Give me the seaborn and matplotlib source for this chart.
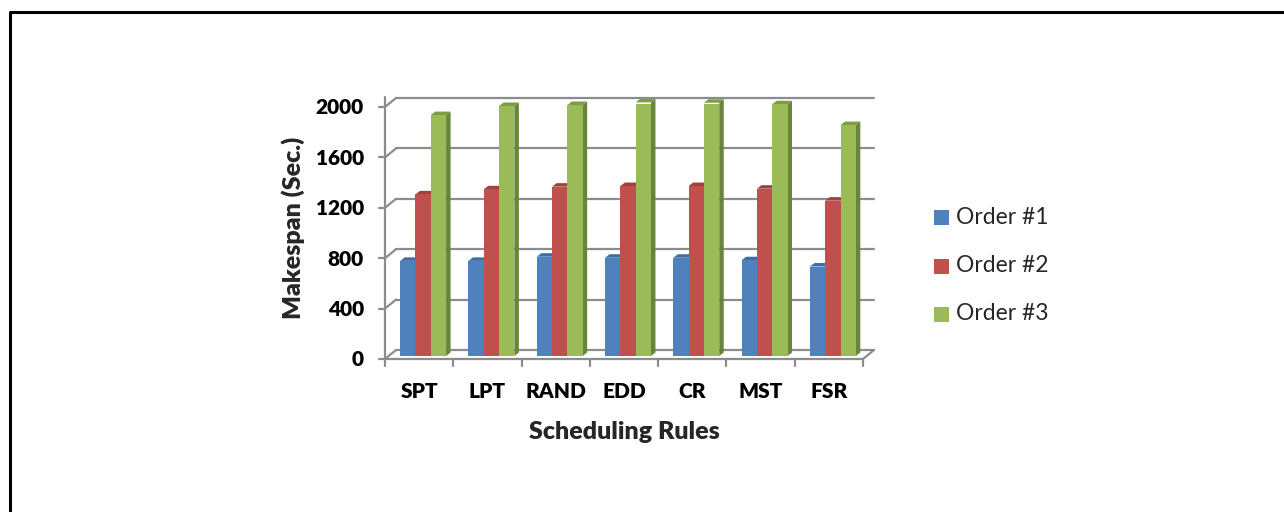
import numpy as np
import pandas as pd
import matplotlib
matplotlib.use("Agg")
import matplotlib.pyplot as plt
import matplotlib.transforms as mtransforms
from matplotlib.patches import Polygon, Rectangle
from matplotlib.lines import Line2D
import seaborn as sns

# ---- data -------------------------------------------------------------
rules = ["SPT", "LPT", "RAND", "EDD", "CR", "MST", "FSR"]
series_names = ["Order #1", "Order #2", "Order #3"]
order1 = [755, 755, 788, 780, 780, 760, 710]
order2 = [1283, 1323, 1344, 1349, 1349, 1328, 1233]
order3 = [1912, 1984, 1992, 2013, 2010, 1998, 1833]
y_ticks = [0, 400, 800, 1200, 1600, 2000]

# ---- style ------------------------------------------------------------
front_colors = ["#4F81BD", "#C0504D", "#9BBB59"]
top_colors = ["#3D6CA6", "#A3403D", "#7F9C45"]
side_colors = ["#3A6296", "#8E3B38", "#6A843B"]
grid_color = "#8C8C8C"

sns.set_theme(style="white")
plt.rcParams["font.family"] = ["Lato", "DejaVu Sans"]

W, H, DPI = 1284, 512, 100
fig = plt.figure(figsize=(W / DPI, H / DPI), dpi=DPI)

# axes frame in pixels (plane of the bar fronts)
ax_left, ax_right = 389, 867
ax_base, ax_top = 356, 104
ax = fig.add_axes([ax_left / W, (H - ax_base) / H,
                   (ax_right - ax_left) / W, (ax_base - ax_top) / H])

df = pd.DataFrame({
    "rule": np.repeat(rules, 3),
    "order": series_names * len(rules),
    "makespan": np.ravel(np.column_stack([order1, order2, order3])),
})

sns.barplot(data=df, x="rule", y="makespan", hue="order", order=rules,
            hue_order=series_names, palette=front_colors, saturation=1,
            width=0.672, edgecolor="none", linewidth=0, ax=ax,
            legend=False, zorder=3)

ax.set_xlim(-0.5, len(rules) - 0.5)
ax.set_ylim(0, 2000)
ax.axis("off")

# pixel -> data conversion for the pseudo-3D depth
px_x = (len(rules)) / (ax_right - ax_left)
px_y = 2000 / (ax_base - ax_top)


def offs(dx, dy):
    return mtransforms.offset_copy(ax.transData, fig=fig, x=dx, y=dy,
                                   units="dots")


front_t = offs(-4, -3)
back_t = offs(7, 6)
x0, x1 = -0.5, len(rules) - 0.5
ident = mtransforms.IdentityTransform()
tick_font = dict(fontsize=15, fontweight="heavy", color="black")

# back wall gridlines
for v in y_ticks:
    ax.add_line(Line2D([x0, x1], [v, v], transform=back_t, color=grid_color,
                       lw=1.6, zorder=0, clip_on=False))
    # side-wall diagonals from front axis to back wall
    p_front = front_t.transform((x0, v))
    p_back = back_t.transform((x0, v))
    ax.add_line(Line2D([p_front[0], p_back[0]], [p_front[1], p_back[1]],
                       transform=ident, color=grid_color, lw=1.6, zorder=0,
                       clip_on=False))
    # small tick on the value axis
    ax.add_line(Line2D([p_front[0] - 6, p_front[0]], [p_front[1], p_front[1]],
                       transform=ident, color=grid_color, lw=1.6, zorder=0,
                       clip_on=False))
    ax.text(x0, v, f"{v}", transform=offs(-25, -4), ha="right", va="center",
            **tick_font)

# value axis line
ax.add_line(Line2D([x0, x0], [0, 2080], transform=front_t, color=grid_color,
                   lw=1.6, zorder=0, clip_on=False))

# floor: front edge, right edge and category ticks
ax.add_line(Line2D([x0, x1], [0, 0], transform=front_t, color=grid_color,
                   lw=1.6, zorder=1, clip_on=False))
pf = front_t.transform((x1, 0))
pb = back_t.transform((x1, 0))
ax.add_line(Line2D([pf[0], pb[0]], [pf[1], pb[1]], transform=ident,
                   color=grid_color, lw=1.6, zorder=1, clip_on=False))
for b in np.arange(len(rules) + 1) - 0.5:
    p = front_t.transform((b, 0))
    ax.add_line(Line2D([p[0], p[0]], [p[1], p[1] - 7], transform=ident,
                       color=grid_color, lw=1.6, zorder=1, clip_on=False))

for i, r in enumerate(rules):
    ax.text(i, 0, r, transform=offs(-4, -36), ha="center", va="center",
            **tick_font)

# depth faces of the bars (top caps and the exposed right side)
ddx, ddy = 4.5 * px_x, 3.5 * px_y
n = len(rules)
for k, p in enumerate(ax.patches[: 3 * n]):
    s = k // n
    bx, bw, bh = p.get_x(), p.get_width(), p.get_height()
    top = Polygon([(bx, bh), (bx + bw, bh), (bx + bw + ddx, bh + ddy),
                   (bx + ddx, bh + ddy)], closed=True, facecolor=top_colors[s],
                  edgecolor="none", zorder=2, clip_on=False)
    ax.add_patch(top)
    if s == 2:
        side = Polygon([(bx + bw, 0), (bx + bw, bh), (bx + bw + ddx, bh + ddy),
                        (bx + bw + ddx, ddy)], closed=True,
                       facecolor=side_colors[s], edgecolor="none", zorder=2,
                       clip_on=False)
        ax.add_patch(side)

# axis titles
fig.text(293 / W, 1 - 228 / H, "Makespan (Sec.)", rotation=90, ha="center",
         va="center", fontsize=18, fontweight="heavy")
fig.text(624 / W, 1 - 432 / H, "Scheduling Rules", ha="center", va="center",
         fontsize=18, fontweight="heavy")

# legend
leg_y = [217, 266, 314]
for name, col, yy in zip(series_names, front_colors, leg_y):
    fig.add_artist(Rectangle((934 / W, 1 - (yy + 7.5) / H), 15 / W, 15 / H,
                             transform=fig.transFigure, facecolor=col,
                             edgecolor="none"))
    fig.text(956 / W, 1 - yy / H, name, ha="left", va="center", fontsize=16.5)

# outer frame (top and left)
fig.add_artist(Line2D([9.5 / W, 9.5 / W, 1.0], [0.0, 1 - 12 / H, 1 - 12 / H],
                      transform=fig.transFigure, color="black", lw=2.2))

fig.savefig("out.png", dpi=DPI, facecolor="white")
